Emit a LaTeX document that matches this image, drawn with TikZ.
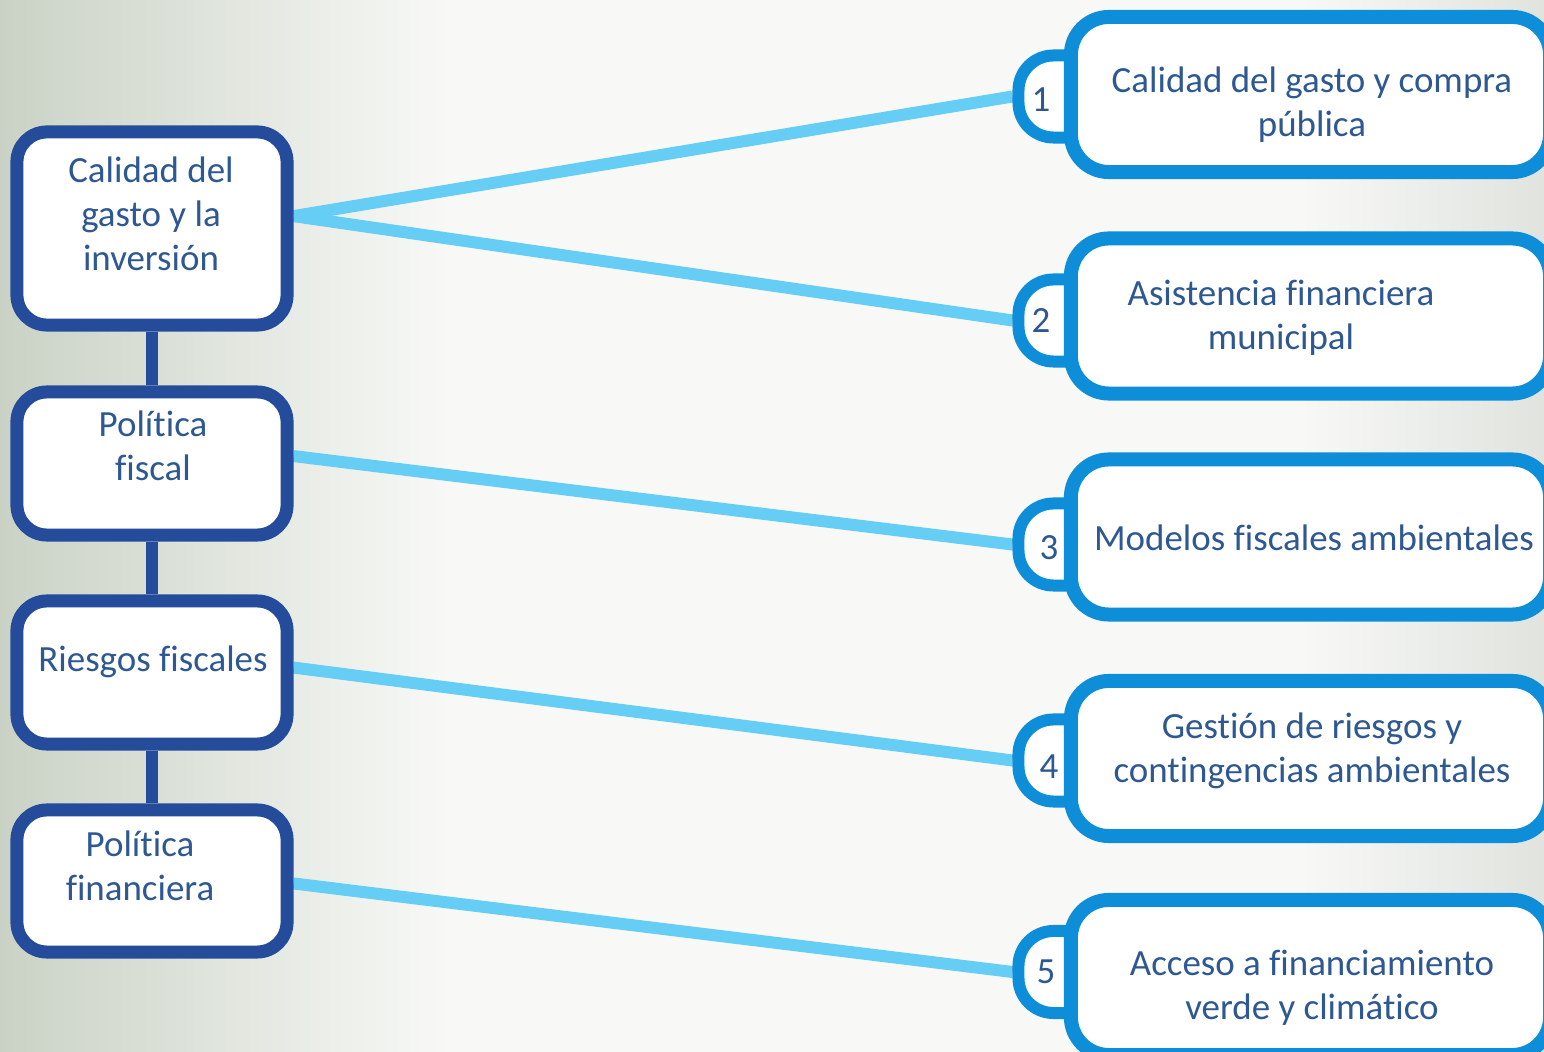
\documentclass[tikz,border=0pt]{standalone}
\usepackage{fontspec}
\setmainfont{Carlito}[Ligatures=NoCommon]
\usepackage{tikz}
\usetikzlibrary{positioning}
\definecolor{boxblue}{RGB}{36,76,155}
\definecolor{tabblue}{RGB}{14,142,216}
\definecolor{linkblue}{RGB}{102,205,245}
\definecolor{textblue}{RGB}{46,88,146}
\definecolor{bgleft}{RGB}{202,210,197}
\definecolor{bgmid}{RGB}{248,249,247}
\definecolor{bgright}{RGB}{224,227,222}
\pgfdeclarelayer{back}
\pgfdeclarelayer{mid}
\pgfsetlayers{back,mid,main}

\begin{document}
\begin{tikzpicture}[x=0.01cm, y=-0.01cm,
  every node/.style={font=\fontsize{10.5}{12.5}\selectfont, text=textblue, align=center},
  leftbox/.style={draw=boxblue, line width=0.13cm, fill=white, rounded corners=0.3cm, minimum width=2.7cm},
  rightbox/.style={draw=tabblue, line width=0.14cm, fill=white, rounded corners=0.38cm, minimum width=4.79cm, minimum height=1.55cm},
  tabbox/.style={draw=tabblue, line width=0.12cm, fill=white, rounded corners=0.35cm, minimum width=0.82cm, minimum height=0.82cm},
  link/.style={draw=linkblue, line width=0.12cm},
  stem/.style={draw=boxblue, line width=0.11cm}]
\useasboundingbox (0,0) rectangle (1544,1052);
\begin{pgfonlayer}{back}
\fill[left color=bgleft, right color=bgmid] (0,0) rectangle (450,1052);
\fill[bgmid] (450,0) rectangle (1300,1052);
\fill[left color=bgmid, right color=bgright] (1300,0) rectangle (1544,1052);
\end{pgfonlayer}

% right column
\node[tabbox] (k1) at (1059.5,96.5) {};
\node[rightbox] (r1) at (1310.5,94.5) {};
\node[tabbox] (k2) at (1059.5,320.5) {};
\node[rightbox] (r2) at (1310.5,316) {};
\node[tabbox] (k3) at (1059.5,544.5) {};
\node[rightbox] (r3) at (1310.5,537) {};
\node[tabbox] (k4) at (1059.5,760.5) {};
\node[rightbox] (r4) at (1310.5,758.5) {};
\node[tabbox] (k5) at (1059.5,972) {};
\node[rightbox] (r5) at (1310.5,977.5) {};

\node (n1) at (1041,100) {1};
\node (n2) at (1041,321) {2};
\node (n3) at (1049,548) {3};
\node (n4) at (1049,767) {4};
\node (n5) at (1046,972) {5};

\node (q1) at (1312,105) {Calidad del gasto y compra\\pública};
\node (q2) at (1281,318) {Asistencia financiera\\municipal};
\node (q3) at (1314,538) {Modelos fiscales ambientales};
\node (q4) at (1312,751) {Gestión de riesgos y\\contingencias ambientales};
\node (q5) at (1312,988) {Acceso a financiamiento\\verde y climático};

% left column
\node[leftbox, minimum height=1.93cm] (b1) at (152,228.5) {};
\node[leftbox, minimum height=1.43cm] (b2) at (152,463.5) {};
\node[leftbox, minimum height=1.43cm] (b3) at (152,672.5) {};
\node[leftbox, minimum height=1.42cm] (b4) at (152,881) {};

\node (t1) at (151,214) {Calidad del\\gasto y la\\inversión};
\node (t2) at (153,446) {Política\\fiscal};
\node (t3) at (153,662) {Riesgos fiscales};
\node (t4) at (140,866) {Política\\financiera};

\begin{pgfonlayer}{mid}
\draw[stem] (b1.south) -- (b2.north);
\draw[stem] (b2.south) -- (b3.north);
\draw[stem] (b3.south) -- (b4.north);
\draw[link] (b1.5) -- (k1.west);
\draw[link] (b1.5) -- (k2.west);
\draw[link] (b2.3) -- (k3.west);
\draw[link] (b3.2) -- (k4.west);
\draw[link] (b4.-1) -- (k5.west);
\end{pgfonlayer}
\end{tikzpicture}
\end{document}
